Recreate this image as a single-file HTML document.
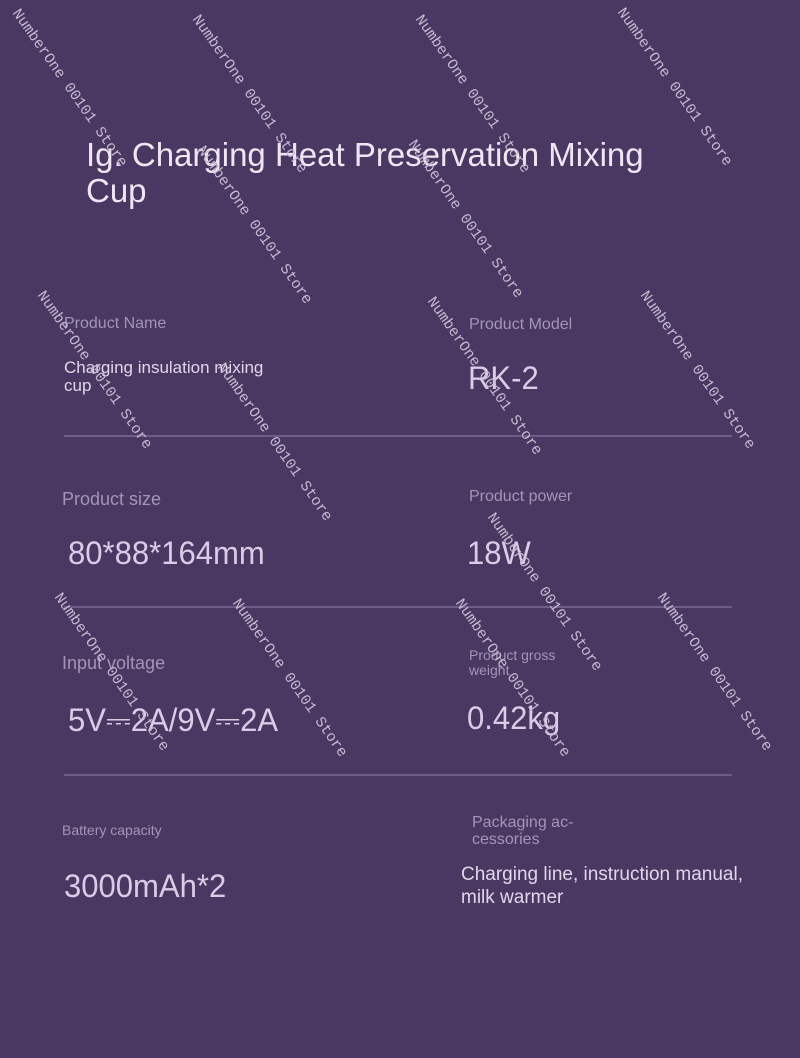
<!DOCTYPE html><html><head><style>
body{margin:0;width:800px;height:1058px;background:#4a3862;position:relative;overflow:hidden;font-family:"Liberation Sans",sans-serif}
.a{position:absolute;white-space:nowrap}
.t{left:86px;top:137px;font-size:33px;color:#eee6f2;line-height:36px}
.l{color:#a395b6;font-size:16px}
.s{color:#a395b6;font-size:14px;line-height:15px}
.v{color:#dccbe6;font-size:32px;transform:scaleX(.97);transform-origin:left}
.n{color:#e0d6ea;font-size:17px;line-height:18px}
.h{position:absolute;left:64px;width:668px;height:2px;background:#6e5d88}
.w{position:absolute;font-family:"Liberation Mono",monospace;font-size:15px;color:#c4bad0;transform:rotate(55deg);transform-origin:0 0;white-space:nowrap}
</style></head><body>
<div class="a t">Ig. Charging Heat Preservation Mixing<br>Cup</div>
<div class="a l" style="left:64px;top:315px">Product Name</div>
<div class="a n" style="left:64px;top:359px">Charging insulation mixing<br>cup</div>
<div class="a l" style="left:469px;top:316px">Product Model</div>
<div class="a v" style="left:468px;top:360px">RK-2</div>
<div class="h" style="top:435px"></div>
<div class="a l" style="left:62px;top:489px;font-size:18px">Product size</div>
<div class="a v" style="left:68px;top:535px">80*88*164mm</div>
<div class="a l" style="left:469px;top:488px">Product power</div>
<div class="a v" style="left:467px;top:535px">18W</div>
<div class="h" style="top:606px"></div>
<div class="a l" style="left:62px;top:653px;font-size:18px">Input voltage</div>
<div class="a v" style="left:68px;top:702px">5V⎓2A/9V⎓2A</div>
<div class="a s" style="left:469px;top:648px">Product gross<br>weight</div>
<div class="a v" style="left:467px;top:700px">0.42kg</div>
<div class="h" style="top:774px"></div>
<div class="a s" style="left:62px;top:823px">Battery capacity</div>
<div class="a v" style="left:64px;top:868px">3000mAh*2</div>
<div class="a l" style="left:472px;top:814px;line-height:17px">Packaging ac-<br>cessories</div>
<div class="a n" style="left:461px;top:863px;font-size:19px;line-height:23px">Charging line, instruction manual,<br>milk warmer</div>
<div class="w" style="left:22px;top:6px">NumberOne 00101 Store</div>
<div class="w" style="left:202px;top:12px">NumberOne 00101 Store</div>
<div class="w" style="left:425px;top:12px">NumberOne 00101 Store</div>
<div class="w" style="left:627px;top:5px">NumberOne 00101 Store</div>
<div class="w" style="left:207px;top:143px">NumberOne 00101 Store</div>
<div class="w" style="left:418px;top:137px">NumberOne 00101 Store</div>
<div class="w" style="left:47px;top:288px">NumberOne 00101 Store</div>
<div class="w" style="left:227px;top:360px">NumberOne 00101 Store</div>
<div class="w" style="left:437px;top:294px">NumberOne 00101 Store</div>
<div class="w" style="left:650px;top:288px">NumberOne 00101 Store</div>
<div class="w" style="left:497px;top:510px">NumberOne 00101 Store</div>
<div class="w" style="left:64px;top:590px">NumberOne 00101 Store</div>
<div class="w" style="left:242px;top:596px">NumberOne 00101 Store</div>
<div class="w" style="left:465px;top:596px">NumberOne 00101 Store</div>
<div class="w" style="left:667px;top:590px">NumberOne 00101 Store</div>
</body></html>
